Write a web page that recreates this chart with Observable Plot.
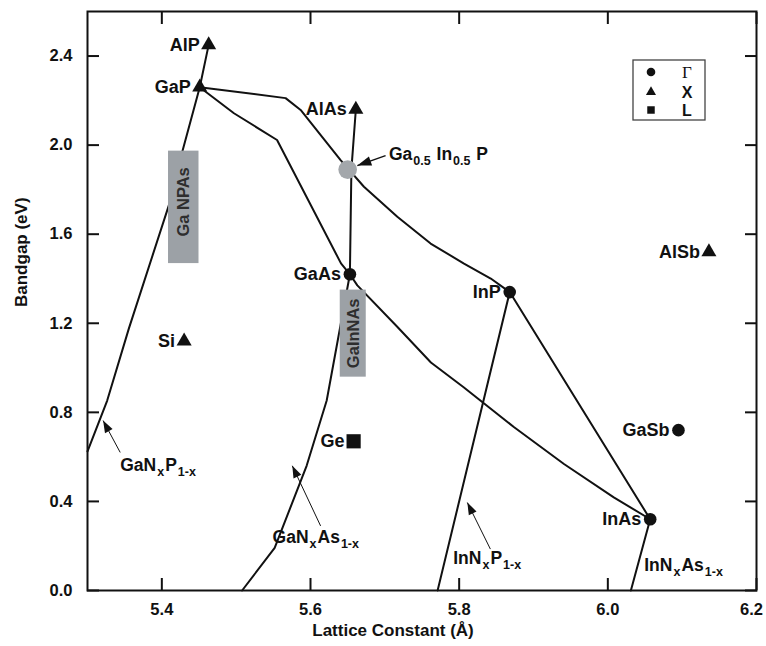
<!DOCTYPE html>
<html><head><meta charset="utf-8">
<script src="https://cdn.jsdelivr.net/npm/d3@7"></script>
<script src="https://cdn.jsdelivr.net/npm/@observablehq/plot@0.6"></script>
<style>
body{margin:0;background:#fff;}
#chart svg{display:block;}
</style></head><body><div id="chart"></div>
<script>
// ---------------- data ----------------
const compounds    = ["AlP","GaP","AlAs","GaAs","InP","InAs","GaSb","AlSb","Si","Ge"];
const latticeConst = [5.463,5.451,5.661,5.653,5.868,6.057,6.095,6.136,5.430,5.658];
const bandgap      = [2.45, 2.26, 2.16, 1.42, 1.34, 0.32, 0.72, 1.52, 1.12, 0.67];
const gapType      = ["X","X","X","Γ","Γ","Γ","Γ","X","X","L"];

const ternaryLabel = "Ga{0.5} In{0.5} P";
const ternaryX = [5.650];
const ternaryY = [1.89];
const ternaryLabelX = [5.7055];
const ternaryLabelY = [1.96];
const ternaryArrowFrom = [5.701, 1.953];
const ternaryArrowTo   = [5.663, 1.908];

// alloy curves
const curveNames = ["GaP-AlP","GaAs-AlAs","GaInP","GaAsP","GaInAs","InAsP","GaNP","GaNAs","InNP","InNAs"];
const curveX = [
  [5.451, 5.463],
  [5.653, 5.655, 5.661],
  [5.451, 5.5665, 5.5867, 5.6405, 5.6719, 5.7168, 5.7616, 5.8065, 5.8425, 5.868],
  [5.451, 5.497, 5.555, 5.641, 5.653],
  [5.653, 5.663, 5.717, 5.762, 5.806, 5.874, 5.941, 6.008, 6.057],
  [5.868, 6.057],
  [5.300, 5.3265, 5.3556, 5.4117, 5.4275, 5.451],
  [5.508, 5.5518, 5.5949, 5.6218, 5.653],
  [5.771, 5.868],
  [6.031, 6.057]
];
const curveY = [
  [2.26, 2.45],
  [1.42, 1.89, 2.16],
  [2.26, 2.211, 2.158, 1.933, 1.813, 1.678, 1.558, 1.468, 1.401, 1.34],
  [2.26, 2.143, 2.023, 1.469, 1.42],
  [1.42, 1.37, 1.183, 1.024, 0.913, 0.733, 0.568, 0.418, 0.32],
  [1.34, 0.32],
  [0.625, 0.853, 1.176, 1.753, 1.970, 2.26],
  [0.0, 0.191, 0.561, 0.853, 1.42],
  [0.0, 1.34],
  [0.0, 0.32]
];

// grey boxes
const boxLabels = ["Ga NPAs", "GaInNAs"];
const boxX1 = [5.409, 5.640];
const boxX2 = [5.450, 5.675];
const boxY1 = [1.468, 0.958];
const boxY2 = [1.973, 1.349];
const boxLabelY = [1.745, 1.155];

// nitride alloy labels and pointers
const alloyLabels = ["GaN{x}P{1-x}", "GaN{x}As{1-x}", "InN{x}P{1-x}", "InN{x}As{1-x}"];
const alloyLabelX = [5.344, 5.549, 5.792, 6.049];
const alloyLabelY = [0.562, 0.239, 0.142, 0.112];
const pointerX1 = [5.344, 5.6136, 5.842];
const pointerY1 = [0.620, 0.290, 0.186];
const pointerX2 = [5.321, 5.5755, 5.811];
const pointerY2 = [0.763, 0.560, 0.395];

const xTicks = [5.4, 5.6, 5.8, 6.0, 6.2];
const yTicks = [0.0, 0.4, 0.8, 1.2, 1.6, 2.0, 2.4];
const xLabel = "Lattice Constant (Å)";
const yLabel = "Bandgap (eV)";
const legendTypes = ["Γ", "X", "L"];
const legendSymbols = ["circle", "triangle", "square"];

// ---------------- tables ----------------
const points = compounds.map((name, i) => ({name, x: latticeConst[i], y: bandgap[i], type: gapType[i]}));
const curveRows = curveNames.flatMap((name, j) => curveX[j].map((x, i) => ({name, x, y: curveY[j][i]})));
const boxes = boxLabels.map((label, i) => ({label, x1: boxX1[i], x2: boxX2[i], y1: boxY1[i], y2: boxY2[i], ly: boxLabelY[i]}));
const alloys = alloyLabels.map((label, i) => ({label, x: alloyLabelX[i], y: alloyLabelY[i]}));
const pointers = pointerX1.map((x1, i) => ({x1, y1: pointerY1[i], x2: pointerX2[i], y2: pointerY2[i], size: "small"}));
const ternary = [{x: ternaryX[0], y: ternaryY[0]}];
pointers.push({x1: ternaryArrowFrom[0], y1: ternaryArrowFrom[1], x2: ternaryArrowTo[0], y2: ternaryArrowTo[1], size: "big"});
const ternaryText = [{label: ternaryLabel, x: ternaryLabelX[0], y: ternaryLabelY[0]}];

const font = '"Liberation Sans", Arial, Helvetica, sans-serif';
const ink = "#111";
const symbolOf = {"Γ": "circle", "X": "triangle", "L": "square"};

const plot = Plot.plot({
  width: 766, height: 646,
  marginLeft: 87, marginRight: 10, marginTop: 11, marginBottom: 56,
  style: {fontFamily: font, fontWeight: "bold", fontSize: "16px", color: ink, background: "#fff", overflow: "visible"},
  x: {domain: [5.3, 6.2]},
  y: {domain: [0, 2.6]},
  marks: [
    Plot.line(curveRows, {x: "x", y: "y", z: "name", stroke: ink, strokeWidth: 2, strokeLinejoin: "round", strokeLinecap: "round"}),
    Plot.rect(boxes, {x1: "x1", x2: "x2", y1: "y1", y2: "y2", fill: "#9ca1a6"}),
    Plot.text(boxes, {x: d => (d.x1 + d.x2) / 2, y: "ly", text: "label", rotate: -90, fill: "#2e2e2e", fontSize: 16.5}),
    Plot.dot(ternary, {x: "x", y: "y", r: 9.3, fill: "#a3a7ab"}),
    Plot.link(pointers, {x1: "x1", y1: "y1", x2: "x2", y2: "y2", stroke: ink, strokeWidth: d => d.size === "big" ? 1.5 : 1}),
    Plot.dot(points.filter(d => symbolOf[d.type] === "circle"), {x: "x", y: "y", r: 6.3, fill: ink, symbol: "circle"}),
    Plot.dot(points.filter(d => symbolOf[d.type] === "triangle"), {x: "x", y: "y", r: 5.6, fill: ink, symbol: "triangle"}),
    Plot.dot(points.filter(d => symbolOf[d.type] === "square"), {x: "x", y: "y", r: 8, fill: ink, symbol: "square"}),
    Plot.text(points, {x: "x", y: "y", text: "name", textAnchor: "end", dx: -9, fontSize: 18, fill: ink}),
    Plot.text(alloys, {x: "x", y: "y", text: "label", textAnchor: "start", fontSize: 17.5, fill: ink}),
    Plot.text(ternaryText, {x: "x", y: "y", text: "label", textAnchor: "start", fontSize: 17.5, fill: ink}),
    Plot.axisX({anchor: "bottom", ticks: xTicks, tickSize: -12, tickPadding: 25, tickFormat: d3.format(".1f"), label: null, strokeWidth: 2, stroke: ink, fill: ink, fontSize: 16.5}),
    Plot.axisX({anchor: "top", ticks: xTicks, tickSize: -12, label: null, strokeWidth: 2, stroke: ink, fill: "none"}),
    Plot.axisY({anchor: "left", ticks: yTicks, tickSize: -12, tickPadding: 27, tickFormat: d3.format(".1f"), label: null, strokeWidth: 2, stroke: ink, fill: ink, fontSize: 16.5}),
    Plot.axisY({anchor: "right", ticks: yTicks, tickSize: -12, label: null, strokeWidth: 2, stroke: ink, fill: "none"}),
    Plot.frame({stroke: ink, strokeWidth: 2}),
    Plot.text([xLabel], {frameAnchor: "bottom", dx: -29, dy: 45, fontSize: 17, fill: ink}),
    Plot.text([yLabel], {frameAnchor: "left", dx: -66, dy: 6, rotate: -90, fontSize: 17, fill: ink})
  ]
});

// ---------------- post-processing ----------------
const svgSel = d3.select(plot);
const defs = svgSel.insert("defs", ":first-child");
function addHead(id, len, half) {
  defs.append("marker").attr("id", id)
    .attr("viewBox", `${-len - 1} ${-half - 1} ${len + 2} ${2 * half + 2}`)
    .attr("markerWidth", len + 2).attr("markerHeight", 2 * half + 2)
    .attr("markerUnits", "userSpaceOnUse").attr("orient", "auto")
    .append("path").attr("d", `M${-len},${-half}L0,0L${-len},${half}Z`).attr("fill", ink);
}
addHead("head-big", 14, 4.8);
addHead("head-small", 12, 4.3);
svgSel.selectAll('g[aria-label="link"] path').each(function (_, i) {
  d3.select(this).attr("marker-end", pointers[i] && pointers[i].size === "big" ? "url(#head-big)" : "url(#head-small)");
});

// subscripts written as {..}
svgSel.selectAll("text").each(function () {
  const t = d3.select(this);
  if (this.querySelector("tspan")) return;
  const s = t.text();
  if (!s.includes("{")) return;
  t.text(null);
  let shifted = false;
  for (const p of s.split(/(\{[^}]*\})/).filter(p => p.length)) {
    if (p.startsWith("{")) {
      t.append("tspan").attr("dy", shifted ? 0 : 5).attr("dx", 1).attr("font-size", 12.5).text(p.slice(1, -1));
      shifted = true;
    } else {
      const ts = t.append("tspan").text(p);
      if (shifted) { ts.attr("dy", -5).attr("dx", 1); shifted = false; }
    }
  }
});

// last x tick label nudged inside the page like the reference
svgSel.selectAll('g[aria-label="x-axis tick label"] text').filter(function () { return this.textContent === "6.2"; })
  .attr("dx", -5);

// legend box (top right, inside frame)
const sx = plot.scale("x"), sy = plot.scale("y");
const frameRight = sx.range[1], frameTop = sy.range[1];
const lg = svgSel.append("g").attr("transform", `translate(${frameRight - 123},${frameTop + 49})`);
lg.append("rect").attr("width", 72).attr("height", 60).attr("fill", "#fff").attr("stroke", "#444").attr("stroke-width", 1.3);
const rowY = [12, 32, 50];
legendTypes.forEach((lab, i) => {
  const sym = legendSymbols[i] === "circle" ? d3.symbolCircle : legendSymbols[i] === "triangle" ? d3.symbolTriangle : d3.symbolSquare;
  const size = legendSymbols[i] === "circle" ? 58 : legendSymbols[i] === "triangle" ? 44 : 56;
  lg.append("path").attr("d", d3.symbol(sym, size)()).attr("transform", `translate(18,${rowY[i]})`).attr("fill", ink);
  lg.append("text").attr("x", 54).attr("y", rowY[i]).attr("dy", "0.36em").attr("text-anchor", "middle")
    .attr("font-size", lab === "Γ" ? 17 : 16)
    .attr("font-family", lab === "Γ" ? '"Liberation Serif", "DejaVu Serif", serif' : font)
    .attr("font-weight", lab === "Γ" ? "normal" : "bold")
    .attr("fill", ink).text(lab);
});

document.getElementById("chart").appendChild(plot);
</script>
</body></html>
